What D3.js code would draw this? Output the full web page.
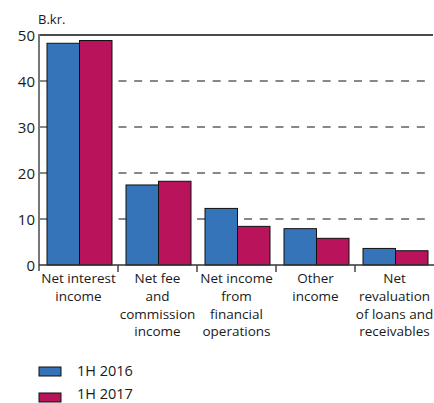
<!DOCTYPE html>
<html><head><meta charset="utf-8">
<script src="https://cdn.jsdelivr.net/npm/d3@7"></script>
<style>body{margin:0;background:#fff}svg{display:block}text{font-family:"Open Sans",sans-serif;fill:#1a1a1a}</style>
</head><body>
<svg id="c" width="434" height="403"></svg>
<script>
const categories = [
  ["Net interest","income"],
  ["Net fee","and","commission","income"],
  ["Net income","from","financial","operations"],
  ["Other","income"],
  ["Net","revaluation","of loans and","receivables"]
];
const seriesNames = ["1H 2016","1H 2017"];
const values2016 = [48.2, 17.4, 12.3, 7.9, 3.6];
const values2017 = [48.8, 18.2, 8.4, 5.8, 3.1];
const yTicks = [0,10,20,30,40,50];
const colors = ["#3574b9","#b8135b"];
const unitLabel = "B.kr.";

const svg = d3.select("#c");
const L = 39, R = 434, T = 35, B = 265;
const x0 = d3.scaleBand().domain(d3.range(categories.length)).range([L, R]).paddingInner(0).paddingOuter(0);
const x1 = d3.scaleBand().domain([0,1]).range([8, x0.bandwidth()-6]).padding(0);
const y = d3.scaleLinear().domain([0,50]).range([B, T]);

// gridlines
svg.append("g").selectAll("line").data(yTicks.filter(d=>d>0 && d<50)).join("line")
  .attr("x1", L+1).attr("x2", 432).attr("y1", d=>y(d)).attr("y2", d=>y(d))
  .attr("stroke","#111").attr("stroke-width",1).attr("stroke-dasharray","8,7.7");

// top line
svg.append("line").attr("x1",L).attr("x2",433).attr("y1",y(50)).attr("y2",y(50))
  .attr("stroke","#111").attr("stroke-width",1.5);

// bars
const data = categories.map((c,i)=>[values2016[i], values2017[i]]);
const g = svg.append("g").selectAll("g").data(data).join("g")
  .attr("transform",(d,i)=>`translate(${x0(i)},0)`);
g.selectAll("rect").data(d=>d).join("rect")
  .attr("x",(d,j)=>x1(j)).attr("width",x1.bandwidth())
  .attr("y",d=>y(d)).attr("height",d=>B-y(d))
  .attr("fill",(d,j)=>colors[j]).attr("stroke","#111").attr("stroke-width",1);

// y axis
const yAxis = d3.axisLeft(y).tickValues(yTicks).tickSize(0).tickPadding(5).tickFormat(d3.format("d"));
const ya = svg.append("g").attr("transform",`translate(${L},0)`).call(yAxis);
ya.select(".domain").remove();
ya.selectAll("text").style("font-size","15px").attr("x",-4).attr("dy","0.35em");
svg.append("line").attr("x1",L).attr("x2",L).attr("y1",y(50)-1).attr("y2",B+6)
  .attr("stroke","#777").attr("stroke-width",2);

// x axis line
svg.append("line").attr("x1",L).attr("x2",R).attr("y1",B).attr("y2",B)
  .attr("stroke","#333").attr("stroke-width",1.5);
// group separator ticks
svg.append("g").selectAll("line").data(d3.range(1,categories.length)).join("line")
  .attr("x1",i=>x0(i)).attr("x2",i=>x0(i)).attr("y1",B).attr("y2",B+7)
  .attr("stroke","#444").attr("stroke-width",1.5);

// category labels
const lab = svg.append("g").selectAll("text").data(categories).join("text")
  .attr("text-anchor","middle").style("font-size","13.5px")
  .attr("transform",(d,i)=>`translate(${x0(i)+x0.bandwidth()/2},${B+18})`);
lab.selectAll("tspan").data(d=>d).join("tspan")
  .attr("x",0).attr("y",(d,k)=>k*17.8).text(d=>d);

// unit label
svg.append("text").attr("x",38).attr("y",24).style("font-size",13).text(unitLabel);

// legend
const lg = svg.append("g").selectAll("g").data(seriesNames).join("g");
lg.append("rect").attr("x",39).attr("y",(d,i)=>367+i*26).attr("width",22).attr("height",9)
  .attr("fill",(d,i)=>colors[i]).attr("stroke","#111").attr("stroke-width",1);
lg.append("text").attr("x",77).attr("y",(d,i)=>375.5+i*23).style("font-size","14.5px").text(d=>d);
</script>
</body></html>
